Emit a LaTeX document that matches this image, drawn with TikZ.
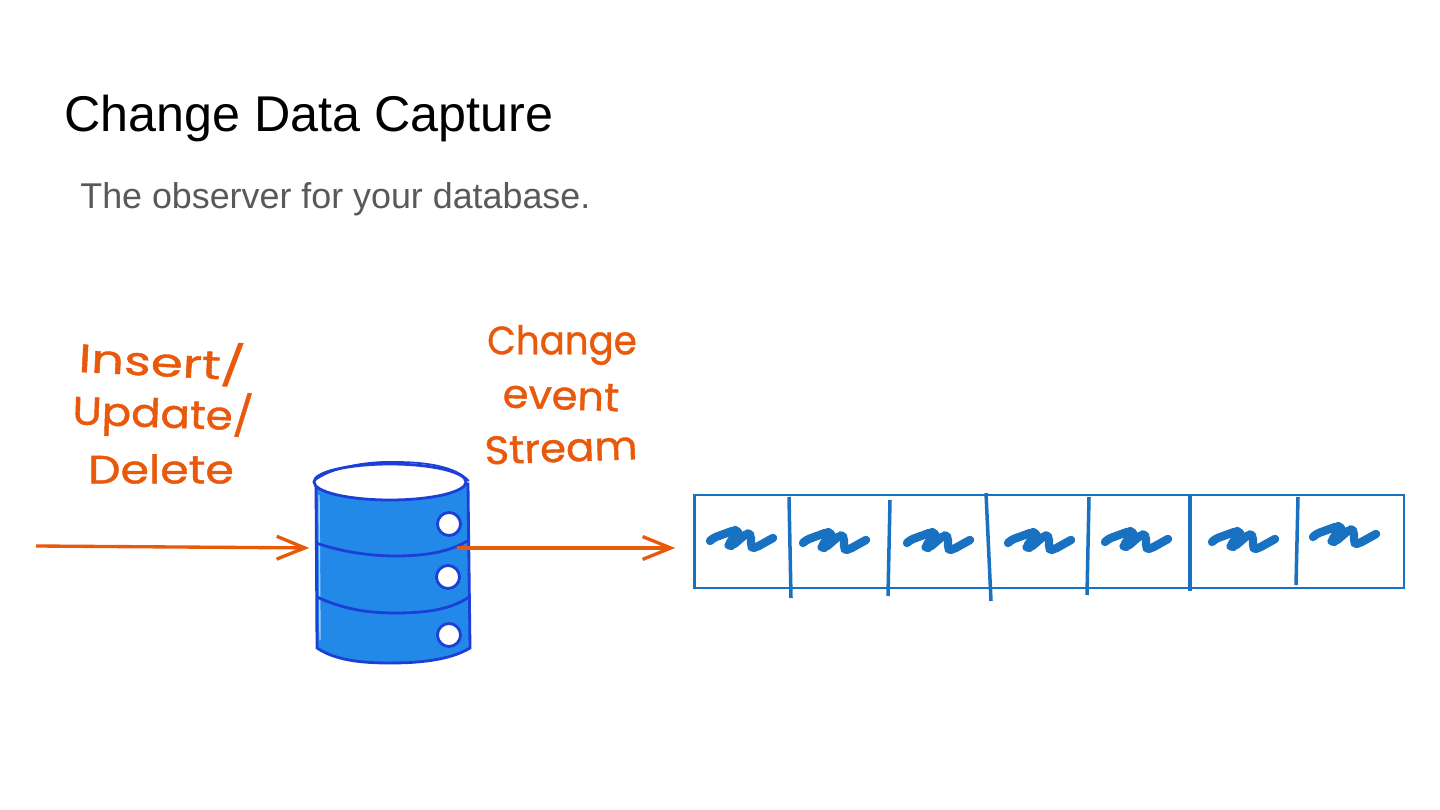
\documentclass[tikz,border=0pt]{standalone}
\usepackage{fontspec}
\setmainfont{Liberation Sans}
\newfontfamily\handfont[RawFeature={embolden=1}]{Poppins}
\usetikzlibrary{arrows.meta}
\definecolor{handorange}{HTML}{E8590C}
\definecolor{streamblue}{HTML}{1971C2}
\definecolor{dbfill}{HTML}{2389E8}
\definecolor{dbline}{HTML}{1C3FD6}
\definecolor{subgray}{HTML}{595959}
\tikzset{
  handlabel/.style={font=\handfont\fontsize{22.5}{26}\selectfont, text=handorange, inner sep=0pt, transform shape},
  flowarrow/.style={draw=handorange, line width=1.9pt, -{Straight Barb[length=16pt,width=13pt,line width=1.9pt]}},
  divider/.style={draw=streamblue, line width=2pt},
  dbstroke/.style={draw=dbline, line width=1.6pt},
  scribble/.pic={
    \draw[streamblue, line width=4.8pt, line cap=round, line join=round, rounded corners=2pt]
      (0,0) -- (3,-3) -- (25,-11) -- (28,-9) -- (18,4) -- (22,5) -- (37,-8) -- (41,-6) -- (41,6) -- (45,7) -- (63,-3);
  }
}

\begin{document}
\begin{tikzpicture}[x=0.02cm, y=-0.02cm]
    \useasboundingbox (0,0) rectangle (1440,810);
    % Title
    \node[font=\fontsize{28.6}{34}\selectfont, anchor=west, inner sep=0pt] (title) at (64,119) {Change Data Capture};
    \node[font=\fontsize{20.4}{24}\selectfont, text=subgray, anchor=west, inner sep=0pt] (subtitle) at (80,199) {The observer for your database.};
    % Database body
    \draw[dbstroke, fill=dbfill] (316,484) -- (317,648)
      .. controls (335,660) and (360,663) .. (390,663)
      .. controls (420,663) and (450,660) .. (470,648) -- (468,484) -- cycle;
    \draw[white!60!dbfill, line width=0.8pt] (319,495) -- (320,640);
    % Database bands
    \draw[dbstroke] (316,543) .. controls (345,553) and (375,556) .. (395,556)
      .. controls (425,556) and (450,552) .. (469,540);
    \draw[dbstroke] (317,597) .. controls (345,610) and (370,613) .. (395,613)
      .. controls (425,613) and (450,610) .. (469,597);
    % Database lid
    \draw[dbstroke, fill=white] (390,482) ellipse [x radius=76, y radius=18];
    \draw[dbline, line width=1pt] (314,481) .. controls (330,468) and (365,461) .. (395,462)
      .. controls (425,462) and (455,466) .. (469,481);
    % Database dots
    \draw[dbstroke, fill=white] (449,524) circle (11.5);
    \draw[dbstroke, fill=white] (448,577) circle (11.5);
    \draw[dbstroke, fill=white] (449,635) circle (11.5);
    \node[minimum width=86pt, minimum height=113pt, inner sep=0pt] (db) at (393,563) {};
    % Stream
    \node[draw=streamblue, line width=1.6pt, minimum width=404pt, minimum height=53pt, inner sep=0pt] (stream) at (1049,541.5) {};
    \draw[divider] (789,497) -- (791,598);
    \draw[divider] (890,500) -- (888,596);
    \draw[divider] (986,493) -- (991,601);
    \draw[divider] (1089,497) -- (1087,595);
    \draw[divider] (1190,495) -- (1190,591);
    \draw[divider] (1298,497) -- (1296,585);
    % Events
    \pic at (710,541) {scribble};
    \pic at (803,543) {scribble};
    \pic at (907,543) {scribble};
    \pic at (1008,543) {scribble};
    \pic at (1105,542) {scribble};
    \pic at (1212,542) {scribble};
    \pic at (1313,537) {scribble};
    % Arrows
    \coordinate (source) at (36,546);
    \coordinate (dbout) at (457,548);
    \draw[flowarrow, shorten >=4.5pt] (source) -- (db.west |- 0,548);
    \draw[flowarrow, shorten >=10pt] (dbout) -- (stream.west |- dbout);
    % Labels
    \node[handlabel, rotate=-3, xscale=1.3] (insert) at (162,361) {Insert/};
    \node[handlabel, rotate=-2, xscale=1.1] (update) at (163,414) {Update/};
    \node[handlabel, xscale=1.16] (delete) at (161,469) {Delete};
    \node[handlabel, xscale=0.94] (change) at (562,345) {Change};
    \node[handlabel, rotate=-2, xscale=1.05] (event) at (561,396) {event};
    \node[handlabel, rotate=2, xscale=1.06] (streamlabel) at (561,448) {Stream};
\end{tikzpicture}
\end{document}
